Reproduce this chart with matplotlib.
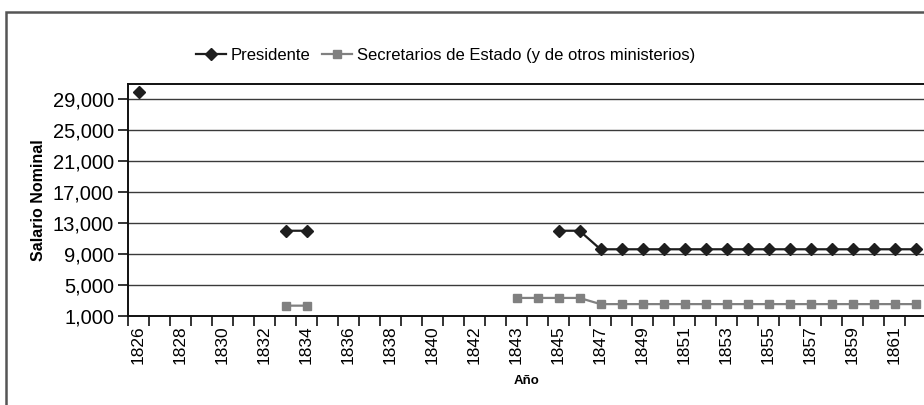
import numpy as np
import matplotlib
matplotlib.use('Agg')
import matplotlib.pyplot as plt
from matplotlib.patches import Rectangle

plt.rcParams['font.family'] = ['Liberation Sans', 'DejaVu Sans']

# categorias del eje x (1843 aparece dos veces en la serie original)
years = [str(y) for y in range(1826, 1843)] + ['1843'] + [str(y) for y in range(1843, 1863)]
nan = np.nan
presidente = [30000, nan, nan, nan, nan, nan, nan, 12000, 12000, nan,
              nan, nan, nan, nan, nan, nan, nan, nan, nan, nan,
              12000, 12000] + [9600] * 16
secretarios = [nan] * 7 + [2300, 2300] + [nan] * 9 + [3300] * 4 + [2500] * 16

yticks = [1000, 5000, 9000, 13000, 17000, 21000, 25000, 29000]

fig = plt.figure(figsize=(9.24, 4.05), dpi=100)
ax = fig.add_axes([128/924, 89.3/405, 798/924, 231.7/405])

x = np.arange(len(years))
ax.plot(x, presidente, color='#1e1e1e', lw=1.6, marker='D', ms=6.5,
        label='Presidente', zorder=4)
ax.plot(x, secretarios, color='#808080', lw=1.6, marker='s', ms=6,
        label='Secretarios de Estado (y de otros ministerios)', zorder=3)

ax.set_xlim(-0.5, len(years) - 0.5)
ax.set_ylim(1000, 31000)
ax.set_yticks(yticks)
ax.set_yticklabels([f'{v:,}' for v in yticks])
for v in yticks[1:]:
    ax.axhline(v, color='#3a3a3a', lw=1, zorder=1)

ax.set_xticks(np.arange(len(years) + 1) - 0.5)
ax.set_xticklabels([])
ax.set_xticks(x[::2], minor=True)
ax.set_xticklabels(years[::2], minor=True, rotation=90)
ax.tick_params(axis='x', which='minor', length=0, pad=7, labelsize=12.5)
ax.tick_params(axis='x', which='major', length=7, width=1.2, color='#111')
ax.tick_params(axis='y', length=7, width=1.2, color='#111', pad=3, labelsize=14.5)

for s in ['left', 'bottom', 'top', 'right']:
    ax.spines[s].set_color('#111')
    ax.spines[s].set_linewidth(1.4)

ax.set_ylabel('Salario Nominal', fontsize=11.5, fontweight='bold', labelpad=5)
ax.set_xlabel('Año', fontsize=9.5, fontweight='bold', labelpad=8)

fig.legend(loc='center', bbox_to_anchor=(0.482, 0.864), ncol=2, frameon=False,
           fontsize=12, handlelength=1.8, columnspacing=0.7, handletextpad=0.3)

# marco exterior del grafico
fig.patches.append(Rectangle((6/924, -0.1), 1.2, (405 - 12)/405 + 0.1,
                             transform=fig.transFigure, fill=False,
                             edgecolor='#555555', lw=1.8))

fig.savefig('out.png', dpi=100)
